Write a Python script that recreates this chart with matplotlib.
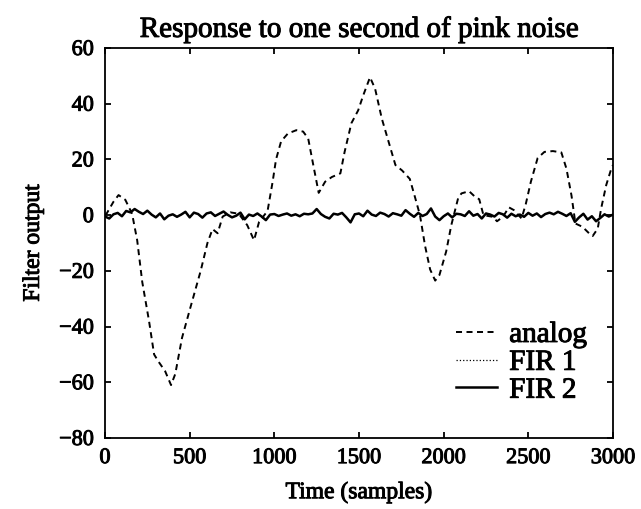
import matplotlib
matplotlib.use("Agg")
import matplotlib.pyplot as plt
import matplotlib.patheffects as pe

# ---- data ----
analog_t = [0, 10, 50, 80, 120, 160, 190, 220, 260, 290, 315, 355, 390, 415, 455,
            505, 565, 605, 635, 665, 695, 740, 790, 840, 880, 910, 960, 990, 1010,
            1040, 1080, 1130, 1170, 1200, 1230, 1262, 1300, 1340, 1390, 1415, 1455,
            1495, 1525, 1565, 1595, 1635, 1675, 1715, 1755, 1800, 1830, 1860, 1890,
            1920, 1950, 1975, 2015, 2045, 2085, 2105, 2150, 2185, 2210, 2235, 2290,
            2315, 2350, 2385, 2415, 2460, 2485, 2515, 2555, 2595, 2645, 2695, 2725,
            2755, 2778, 2820, 2860, 2880, 2910, 2930, 2960, 2990, 3000]
analog_v = [0, 0.6, 4.8, 7.2, 5.5, 0.5, -9, -24, -38, -50, -52.5, -56, -61, -57, -44,
            -33, -20, -10, -5, -6.5, -0.5, 1.0, 0.5, -3.6, -9, -2.4, 1.5, 12, 20,
            26.5, 29.3, 30.5, 30, 27.5, 18, 8, 12, 13.7, 15, 22.7, 33,
            37.6, 43, 49.5, 45.4, 34.6, 26.3, 18, 16, 13, 6.6, 0, -11,
            -19.5, -23.5, -21.5, -13, -3.6, 6, 7.8, 8.6, 6.6, 5.7, 0, -0.6,
            -2.2, -0.6, 2.8, 1.8, -1.2, 4, 12, 20.5, 22.7, 23, 22.5, 16.7,
            7, -3, -4.2, -6.6, -7.5, -4.8, 2.4, 10.8, 16.7, 18]

fir_t = list(range(0, 3001, 25))
fir2_v = [-0.5, -1.2, 0.3, 0.8, -0.4, 1.5, 1.0, 2.2, 1.2, 0.4, 1.6, 0.2, -0.8, 0.6, -1.5, -0.2, 0.3, -0.6, 0.2, 1.2,
          -0.8, 0.9, 0.4, -0.9, 0.6, 1.0, -0.3, 0.5, 1.3, 0.1, -0.8, -0.2, 0.9, -1.5, 0.2, -0.3, 0.6, -0.5, -1.8, 0.2,
          0.4, -0.3, 0.2, 0.6, -0.2, 0.3, -0.4, 0.5, 0.3, 0.6, 2.2, 0.4, -0.6, -1.2, 0.5, 0.2, 0.8, -0.8, -2.6, 0.3,
          0.6, -0.4, 1.6, 0.2, -0.3, 0.9, 0.4, -0.5, 0.7, 0.3, -0.2, 1.8, 0.5, -0.6, 0.8, -0.3, 0.4, 2.4, -0.5, -1.8,
          -0.4, 0.6, -0.8, 0.5, 0.3, -0.3, 1.4, -0.2, 0.4, -1.2, 0.6, 0.2, -0.5, 0.8, 0.3, -0.9, 0.5, -0.4, 0.2, -0.6,
          0.8, -0.2, 0.6, -0.7, 0.4, 0.9, 0.3, 1.2, 0.5, -0.3, 0.7, -2.4, -0.8, 0.5, -1.6, -0.4, -2.2, -1.0, 0.3, -0.5,
          0.2]
fir1_v = [-0.4, -1.1, 0.3, 0.8, -0.4, 1.4, 1.0, 2.1, 1.2, 0.4, 1.5, 0.2, -0.8, 0.6, -1.4, -0.2, 0.3, -0.6, 0.2, 1.1,
          -0.8, 0.9, 0.4, -0.9, 0.6, 1.0, -0.3, 0.5, 1.2, 0.1, -0.8, -0.2, 0.9, -1.4, 0.2, -0.3, 0.6, -0.5, -1.7, 0.2,
          0.4, -0.3, 0.2, 0.6, -0.2, 0.3, -0.4, 0.5, 0.3, 0.6, 2.1, 0.4, -0.6, -1.1, 0.5, 0.2, 0.8, -0.8, -2.5, 0.3,
          0.6, -0.4, 1.5, 0.2, -0.3, 0.9, 0.4, -0.5, 0.7, 0.3, -0.2, 1.7, 0.5, -0.6, 0.8, -0.3, 0.4, 2.3, -0.5, -1.7,
          -0.4, 0.6, -0.8, 0.5, 0.3, -0.3, 1.3, -0.2, 0.4, -1.1, 0.6, 0.2, -0.5, 0.8, 0.3, -0.9, 0.5, -0.4, 0.2, -0.6,
          0.8, -0.2, 0.6, -0.7, 0.4, 0.9, 0.3, 1.1, 0.5, -0.3, 0.7, -2.3, -0.8, 0.5, -1.5, -0.4, -2.1, -1.0, 0.3, -0.5,
          0.2]

x_ticks = [0, 500, 1000, 1500, 2000, 2500, 3000]
y_ticks = [-80, -60, -40, -20, 0, 20, 40, 60]

title = "Response to one second of pink noise"
xlabel = "Time (samples)"
ylabel = "Filter output"
labels = ["analog", "FIR 1", "FIR 2"]

# ---- plot ----
plt.rcParams['font.family'] = ['Liberation Serif', 'DejaVu Serif']
plt.rcParams['axes.unicode_minus'] = True

thick = [pe.withStroke(linewidth=0.7, foreground='black')]

fig = plt.figure(figsize=(6.41, 5.10), dpi=100)
ax = fig.add_axes([105/641, 71/510, 508/641, 390/510])

ax.plot(analog_t, analog_v, color='black', lw=1.4, linestyle=(0, (3.1, 2.3)), label=labels[0])
ax.plot(fir_t, fir1_v, color='black', lw=0.9, linestyle=':', label=labels[1])
ax.plot(fir_t, fir2_v, color='black', lw=1.8, linestyle='-', label=labels[2])

ax.set_xlim(0, 3000)
ax.set_ylim(-80, 60)
ax.set_xticks(x_ticks)
ax.set_yticks(y_ticks)
ax.tick_params(direction='in', top=True, right=True, length=4.5, width=1.3,
               labelsize=16, pad=8)
for lab in ax.get_xticklabels() + ax.get_yticklabels():
    lab.set_path_effects(thick)
for s in ax.spines.values():
    s.set_linewidth(1.3)

t = ax.set_title(title, fontsize=21, pad=8)
t.set_path_effects(thick)
xl = ax.set_xlabel(xlabel, fontsize=17, labelpad=10)
xl.set_path_effects(thick)
yl = ax.set_ylabel(ylabel, fontsize=17, labelpad=11)
yl.set_path_effects(thick)

leg = ax.legend(loc='lower right', bbox_to_anchor=(0.949, 0.088), frameon=False,
                fontsize=21, handlelength=1.4, handletextpad=0.41,
                labelspacing=0.05, borderaxespad=0, borderpad=0)
for txt in leg.get_texts():
    txt.set_path_effects(thick)

fig.savefig("out.png", dpi=100)
